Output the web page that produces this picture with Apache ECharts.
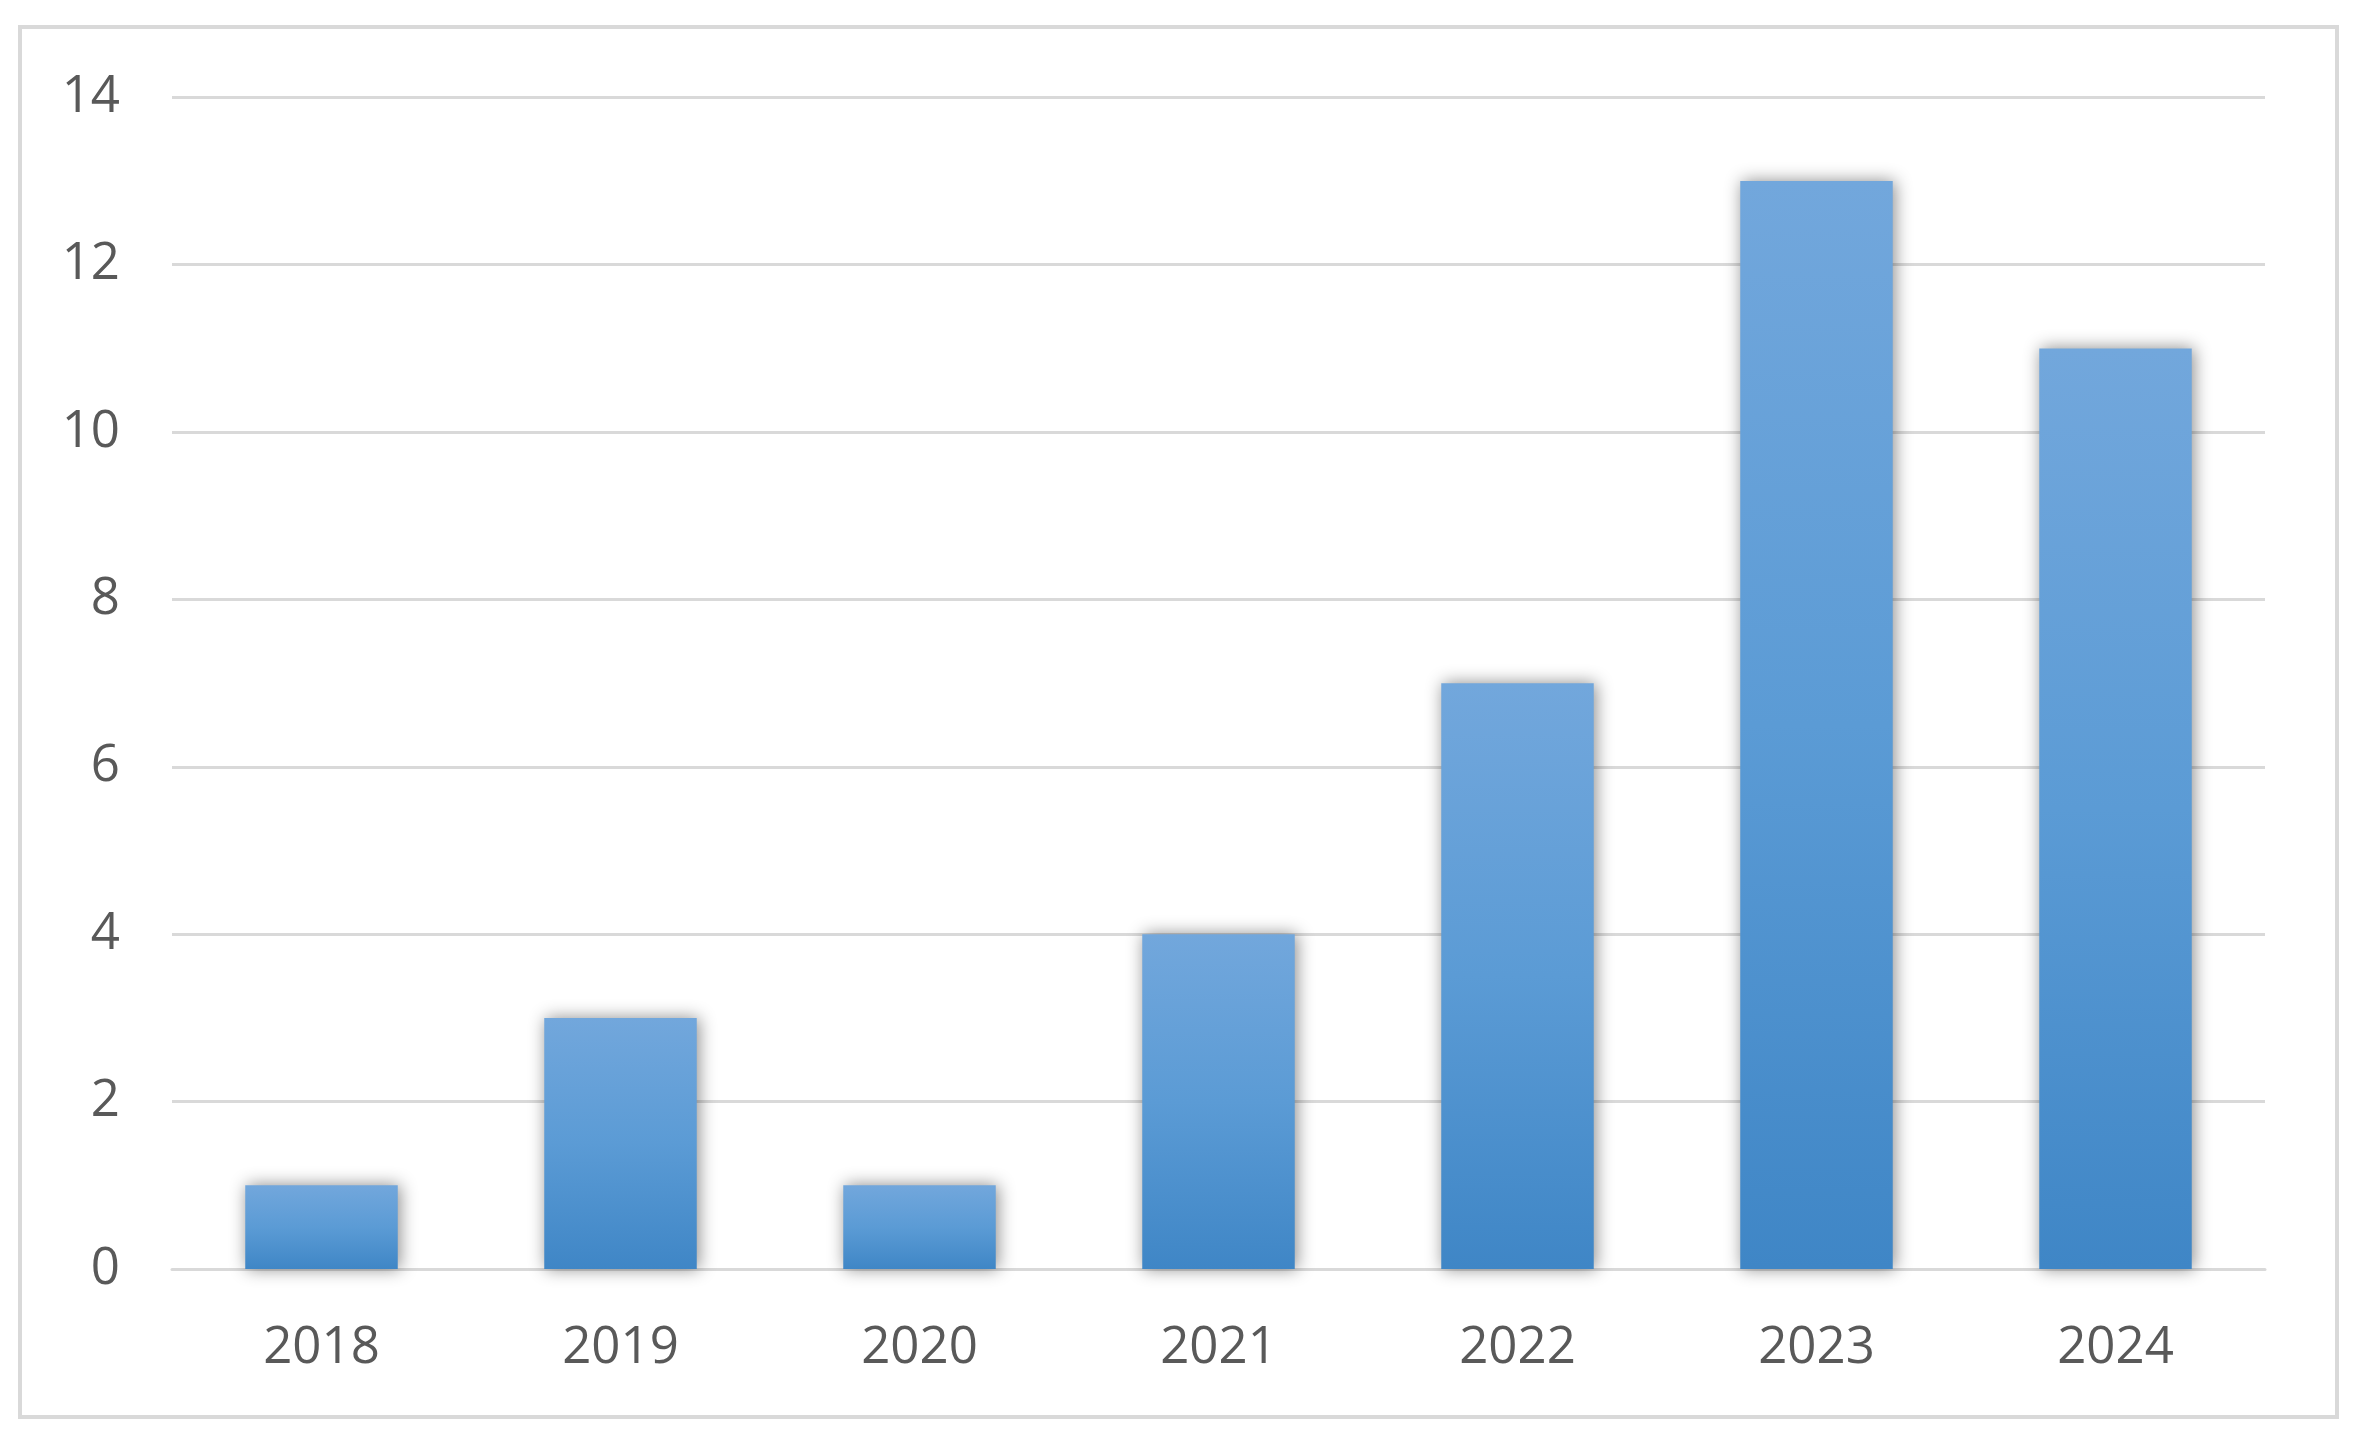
<!DOCTYPE html>
<html>
<head>
<meta charset="utf-8">
<script src="https://cdn.jsdelivr.net/npm/echarts@6/dist/echarts.min.js"></script>
<style>
html,body{margin:0;padding:0;background:#fff;}
#c{width:2357px;height:1448px;}
</style>
</head>
<body>
<div id="c"></div>
<script>
const categories = ['2018','2019','2020','2021','2022','2023','2024'];
const values = [1, 3, 1, 4, 7, 13, 11];
const yTicks = [0, 2, 4, 6, 8, 10, 12, 14];

const chart = echarts.init(document.getElementById('c'));
chart.setOption({
  backgroundColor: '#ffffff',
  animation: false,
  graphic: [{
    type: 'rect',
    shape: {x: 20, y: 27, width: 2317, height: 1390},
    style: {fill: 'none', stroke: '#d9d9d9', lineWidth: 4},
    silent: true
  }],
  grid: {left: 172, right: 92, top: 97.3, bottom: 179, containLabel: false},
  xAxis: {
    type: 'category',
    data: categories,
    axisLine: {show: true, lineStyle: {color: '#d9d9d9', width: 3}},
    axisTick: {show: false},
    axisLabel: {color: '#595959', fontSize: 51, fontFamily: 'Open Sans', margin: 54}
  },
  yAxis: {
    type: 'value',
    min: yTicks[0],
    max: yTicks[yTicks.length - 1],
    interval: 2,
    axisLine: {show: false},
    axisTick: {show: false},
    splitLine: {show: true, lineStyle: {color: '#d9d9d9', width: 3}},
    axisLabel: {color: '#595959', fontSize: 51, fontFamily: 'Open Sans', margin: 52, padding: [6, 0, 0, 0]}
  },
  series: [{
    type: 'bar',
    data: values,
    barCategoryGap: '49%',
    itemStyle: {
      color: new echarts.graphic.LinearGradient(0, 0, 0, 1, [
        {offset: 0, color: '#72a7dc'},
        {offset: 0.5, color: '#5b9bd5'},
        {offset: 1, color: '#3f86c6'}
      ]),
      shadowBlur: 16,
      shadowColor: 'rgba(0,0,0,0.45)',
      shadowOffsetX: 2,
      shadowOffsetY: 0
    }
  }]
});
</script>
</body>
</html>
